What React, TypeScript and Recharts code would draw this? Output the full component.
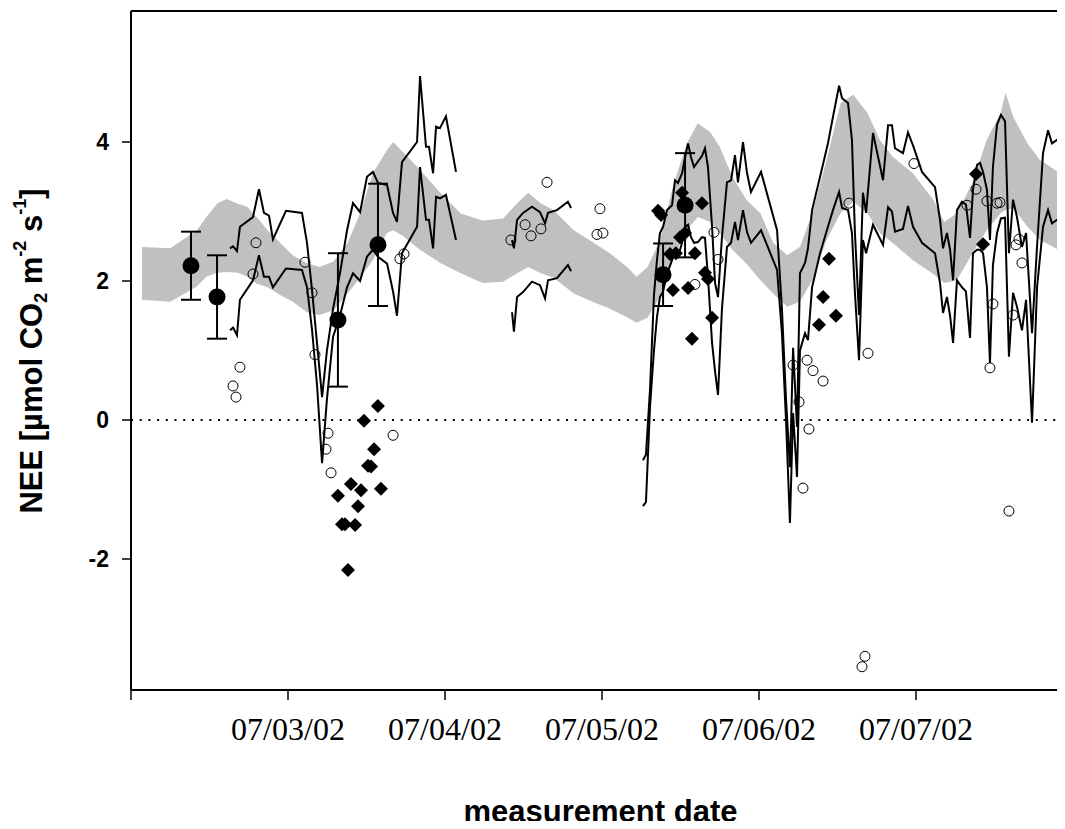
import React from 'react';
import { ComposedChart, Area, Line, Scatter, ErrorBar, XAxis, YAxis, ReferenceLine } from 'recharts';

// x values are days since 07/02/02
const dateTicks = [0, 1, 2, 3, 4, 5];
const dateLabels = ['', '07/03/02', '07/04/02', '07/05/02', '07/06/02', '07/07/02'];
const neeTicks = [-2, 0, 2, 4];

// modelled range (grey band)
const bandT = [0.07, 0.25, 0.42, 0.48, 0.55, 0.61, 0.68, 0.74, 0.8, 0.87, 0.95, 1.03, 1.12, 1.2, 1.29, 1.38, 1.46, 1.54, 1.63, 1.67, 1.73, 1.84, 1.97, 2.1, 2.24, 2.37, 2.46, 2.53, 2.61, 2.69, 2.82, 2.92, 3.05, 3.16, 3.22, 3.29, 3.37, 3.45, 3.54, 3.61, 3.69, 3.75, 3.83, 3.92, 4.01, 4.09, 4.18, 4.26, 4.34, 4.43, 4.52, 4.6, 4.69, 4.77, 4.85, 4.98, 5.11, 5.18, 5.26, 5.36, 5.45, 5.54, 5.57, 5.62, 5.71, 5.79, 5.95];
const bandHi = [2.49, 2.47, 2.73, 2.92, 3.12, 3.18, 3.11, 3.07, 2.92, 2.73, 2.55, 2.37, 2.26, 2.2, 2.28, 2.55, 2.98, 3.55, 3.88, 4.0, 3.86, 3.6, 3.27, 2.97, 2.87, 2.9, 3.12, 3.27, 3.12, 3.02, 2.73, 2.59, 2.4, 2.2, 2.06, 2.2, 2.59, 3.35, 3.98, 4.27, 4.14, 3.93, 3.5, 3.17, 2.97, 2.55, 2.37, 2.49, 2.98, 3.74, 4.56, 4.68, 4.42, 4.03, 3.79, 3.55, 3.17, 2.85, 2.98, 3.41, 4.03, 4.42, 4.71, 4.36, 3.98, 3.74, 3.5];
const bandLo = [1.73, 1.7, 1.92, 2.06, 2.12, 2.13, 2.12, 2.06, 1.96, 1.91, 1.8, 1.7, 1.55, 1.51, 1.58, 1.82, 2.05, 2.3, 2.69, 2.73, 2.65, 2.45, 2.26, 2.11, 1.97, 1.99, 2.11, 2.2, 2.11, 2.05, 1.82, 1.72, 1.6, 1.48, 1.4, 1.47, 1.77, 2.3, 2.73, 2.92, 2.85, 2.69, 2.45, 2.25, 2.01, 1.82, 1.63, 1.7, 2.01, 2.59, 2.98, 3.14, 2.98, 2.69, 2.55, 2.3, 2.1, 1.97, 2.01, 2.4, 2.73, 2.98, 3.02, 3.05, 2.78, 2.59, 2.4];

// eddy covariance NEE, upper and lower estimate (null = data gap)
const lineT = [
  0.631, 0.65, 0.675, 0.694, 0.777, 0.815, 0.847, 0.879, 0.904, 0.987, 1.089, 1.121, 1.153, 1.185, 1.217, 1.248, 1.287, 1.331, 1.376, 1.414, 1.459, 1.503, 1.541, 1.573, 1.631, 1.669, 1.694, 1.726, 1.822, 1.841, 1.879, 1.898, 1.924, 1.943, 1.968, 2.006, 2.07,
  2.25,
  2.427, 2.439, 2.459, 2.497, 2.554, 2.605, 2.637, 2.656, 2.713, 2.783, 2.803,
  3.0,
  3.261, 3.28, 3.306, 3.331, 3.35, 3.369, 3.389, 3.414, 3.446, 3.465, 3.484, 3.51, 3.529, 3.548, 3.567, 3.586, 3.611, 3.637, 3.656, 3.675, 3.701, 3.72, 3.739, 3.764, 3.796, 3.822, 3.847, 3.866, 3.898, 3.924, 3.949, 4.013, 4.115, 4.146, 4.172, 4.197, 4.217, 4.242, 4.261, 4.293, 4.312, 4.338, 4.389, 4.439, 4.471, 4.51, 4.529, 4.567, 4.592, 4.611, 4.637, 4.662, 4.682, 4.726, 4.79, 4.822, 4.847, 4.866, 4.917, 4.949, 4.981, 5.013, 5.038, 5.121, 5.153, 5.172, 5.197, 5.217, 5.236, 5.261, 5.293, 5.318, 5.344, 5.363, 5.389, 5.408, 5.427, 5.452, 5.471, 5.49, 5.516, 5.541, 5.567, 5.592, 5.618, 5.643, 5.675, 5.701, 5.739, 5.771, 5.809, 5.841, 5.866, 5.898, 5.93, 5.955,
];
const lineUp = [
  2.47, 2.5, 2.43, 2.78, 2.92, 3.32, 2.98, 2.94, 2.6, 3.01, 2.98, 2.55, 1.87, 1.1, 0.33, 1.0, 1.6, 2.11, 2.73, 3.12, 2.99, 3.5, 3.57, 3.41, 3.38, 2.98, 2.85, 3.71, 4.0, 4.95, 3.93, 3.93, 3.55, 4.22, 4.2, 4.37, 3.57,
  null,
  2.59, 2.47, 2.88, 2.98, 3.07, 2.99, 2.83, 2.98, 3.02, 3.14, 3.05,
  null,
  -0.58, -0.5, 0.45, 1.8, 2.3, 2.69, 2.78, 3.02, 3.09, 3.45, 3.41, 3.55, 3.78, 3.98, 3.78, 3.64, 3.72, 3.8, 3.91, 3.64, 2.78, 1.97, 1.77, 2.63, 3.42, 3.45, 3.81, 3.42, 4.0, 3.55, 3.28, 3.57, 2.73, 1.6, 0.3, -0.68, 1.04, -0.1, 2.11, 2.26, 2.47, 3.02, 3.5, 3.98, 4.36, 4.81, 4.63, 4.56, 4.03, 2.69, 1.51, 3.27, 2.98, 4.13, 3.45, 4.24, 4.24, 3.91, 3.84, 4.14, 3.95, 3.74, 3.57, 3.35, 2.88, 2.47, 2.69, 2.45, 2.01, 3.02, 3.14, 3.1, 2.62, 3.31, 3.67, 3.7, 3.57, 3.31, 2.59, 3.64, 4.25, 4.39, 4.3, 2.4, 3.17, 2.92, 2.49, 2.69, 1.25, 2.5, 3.84, 4.17, 3.98, 4.03, 4.07, 3.45,
];
const lineLo = [
  1.29, 1.33, 1.22, 1.73, 2.01, 2.37, 2.06, 2.06, 1.91, 2.18, 2.16, 1.91, 1.3, 0.5, -0.62, 0.3, 1.2, 1.5, 1.91, 2.11, 2.0, 2.35, 2.45, 2.35, 2.25, 1.85, 1.5, 2.4, 2.78, 3.64, 2.88, 2.88, 2.47, 3.21, 3.19, 3.24, 2.59,
  null,
  1.55, 1.27, 1.77, 1.84, 1.99, 1.94, 1.75, 2.01, 2.04, 2.23, 2.14,
  null,
  -1.24, -1.18, 0.2, 1.0, 1.48, 1.77, 1.85, 2.1, 2.3, 2.4, 2.35, 2.55, 2.78, 2.81, 2.63, 2.55, 2.56, 2.63, 2.62, 2.06, 1.11, 0.7, 0.36, 1.6, 2.49, 2.55, 2.85, 2.59, 3.02, 2.7, 2.55, 2.73, 2.16, 1.25, 0.0, -1.48, 0.1, -0.82, 1.0, 1.25, 1.15, 1.91, 2.4, 2.78, 3.02, 3.28, 3.05, 3.02, 2.69, 1.83, 0.86, 2.59, 2.4, 2.81, 2.52, 3.06, 3.0, 2.71, 2.75, 3.08, 2.78, 2.65, 2.55, 2.4, 1.97, 1.54, 1.77, 1.5, 1.11, 2.01, 1.91, 1.85, 1.18, 2.4, 2.45, 2.45, 2.4, 1.91, 0.82, 2.23, 2.69, 2.9, 2.91, 0.91, 1.83, 1.63, 1.29, 1.73, -0.04, 1.91, 2.78, 3.02, 2.83, 2.88, 2.92, 2.55,
];

// open circles
const circT = [0.796, 0.777, 1.108, 1.153, 1.713, 1.739, 0.694, 0.65, 0.669, 1.172, 1.255, 1.242, 1.274, 1.669, 2.65, 2.987, 2.42, 2.51, 2.548, 2.611, 2.968, 3.006, 3.713, 3.739, 3.592, 4.987, 4.573, 5.325, 5.382, 5.452, 5.516, 5.535, 5.637, 5.656, 5.675, 5.49, 5.618, 4.694, 5.471, 4.217, 4.306, 4.344, 4.408, 4.255, 4.318, 4.28, 5.592, 4.675, 4.656];
const circV = [2.55, 2.1, 2.27, 1.83, 2.32, 2.39, 0.76, 0.49, 0.33, 0.94, -0.19, -0.42, -0.76, -0.22, 3.42, 3.04, 2.59, 2.81, 2.65, 2.75, 2.67, 2.69, 2.7, 2.31, 1.95, 3.69, 3.12, 3.09, 3.32, 3.15, 3.12, 3.13, 2.52, 2.6, 2.26, 1.67, 1.51, 0.96, 0.75, 0.79, 0.86, 0.71, 0.56, 0.26, -0.13, -0.98, -1.31, -3.4, -3.55];

// filled diamonds
const diaT = [1.573, 1.484, 1.548, 1.51, 1.529, 1.401, 1.465, 1.592, 1.318, 1.446, 1.344, 1.363, 1.427, 1.382, 3.357, 3.376, 3.51, 3.637, 3.497, 3.529, 3.433, 3.471, 3.592, 3.656, 3.675, 3.452, 3.548, 3.701, 3.573, 4.446, 4.408, 4.382, 4.49, 5.382, 5.427];
const diaV = [0.2, -0.01, -0.42, -0.66, -0.67, -0.92, -1.01, -0.99, -1.09, -1.24, -1.5, -1.5, -1.51, -2.16, 3.01, 2.95, 3.27, 3.12, 2.63, 2.69, 2.39, 2.4, 2.4, 2.12, 2.03, 1.87, 1.9, 1.47, 1.17, 2.32, 1.77, 1.37, 1.5, 3.54, 2.53];

// chamber means with error bars
const meanT = [0.382, 0.548, 1.318, 1.573, 3.389, 3.529];
const meanV = [2.22, 1.77, 1.44, 2.52, 2.09, 3.09];
const meanErr = [0.49, 0.6, 0.96, 0.88, 0.45, 0.75];

const bandData = bandT.map((x, i) => ({ x, range: [bandLo[i], bandHi[i]] }));
const lineData = lineT.map((x, i) => ({ x, up: lineUp[i], lo: lineLo[i] }));
const circleData = circT.map((x, i) => ({ x, y: circV[i] }));
const diamondData = diaT.map((x, i) => ({ x, y: diaV[i] }));
const meanData = meanT.map((x, i) => ({ x, y: meanV[i], err: meanErr[i] }));

const SANS = '"Liberation Sans", Arial, Helvetica, sans-serif';
const SERIF = '"Liberation Serif", "Times New Roman", serif';

const OpenCircle = (props: any) => (
  <circle cx={props.cx} cy={props.cy} r={5} fill="none" stroke="#000" strokeWidth={1} />
);

const Diamond = (props: any) => {
  const { cx, cy } = props;
  const s = 7;
  return <polygon points={`${cx},${cy - s} ${cx + s},${cy} ${cx},${cy + s} ${cx - s},${cy}`} fill="#000" />;
};

const MeanDot = (props: any) => <circle cx={props.cx} cy={props.cy} r={8.5} fill="#000" />;

export default function App() {
  return (
    <div style={{ margin: -8, width: 1065, height: 829, overflow: 'hidden', position: 'relative', background: '#fff' }}>
      <ComposedChart width={1065} height={829} margin={{ top: 11, right: 0, bottom: 0, left: 0 }}>
        <XAxis
          dataKey="x"
          type="number"
          domain={[0, 5.949]}
          allowDataOverflow
          ticks={dateTicks}
          tickFormatter={(v: number) => dateLabels[v] ?? ''}
          height={139}
          tickSize={10}
          tickMargin={17}
          axisLine={{ stroke: '#000', strokeWidth: 2 }}
          tickLine={{ stroke: '#000', strokeWidth: 1.5 }}
          tick={{ fontFamily: SERIF, fontSize: 32, fill: '#000' }}
        />
        <YAxis
          type="number"
          domain={[-3.885, 5.885]}
          allowDataOverflow
          ticks={neeTicks}
          width={131}
          tickSize={9}
          tickMargin={13}
          axisLine={{ stroke: '#000', strokeWidth: 2 }}
          tickLine={{ stroke: '#000', strokeWidth: 1.5 }}
          tick={{ fontFamily: SANS, fontSize: 23, fontWeight: 'bold', fill: '#000' }}
        />
        <Area data={bandData} dataKey="range" type="linear" stroke="none" fill="#c0c0c0" fillOpacity={1} isAnimationActive={false} />
        <ReferenceLine y={0} stroke="#000" strokeWidth={2} strokeDasharray="2 6.7" />
        <ReferenceLine y={5.885} stroke="#000" strokeWidth={2} />
        <Line data={lineData} dataKey="up" type="linear" stroke="#000" strokeWidth={2} dot={false} isAnimationActive={false} />
        <Line data={lineData} dataKey="lo" type="linear" stroke="#000" strokeWidth={2} dot={false} isAnimationActive={false} />
        <Scatter data={circleData} dataKey="y" shape={OpenCircle} isAnimationActive={false} />
        <Scatter data={diamondData} dataKey="y" shape={Diamond} isAnimationActive={false} />
        <Scatter data={meanData} dataKey="y" shape={MeanDot} isAnimationActive={false}>
          <ErrorBar dataKey="err" direction="y" width={10} stroke="#000" strokeWidth={2} isAnimationActive={false} />
        </Scatter>
      </ComposedChart>
      <svg width={1065} height={829} style={{ position: 'absolute', left: 0, top: 0, pointerEvents: 'none' }}>
        <text
          transform="rotate(-90 42 351)"
          x={42}
          y={351}
          textAnchor="middle"
          fontFamily={SANS}
          fontWeight="bold"
          fontSize={31}
          fill="#000"
        >
          {'NEE [µmol CO'}
          <tspan fontSize={18} dy={5}>2</tspan>
          <tspan dy={-5}>{' m'}</tspan>
          <tspan fontSize={18} dy={-16}>-2</tspan>
          <tspan dy={16}>{' s'}</tspan>
          <tspan fontSize={18} dy={-16}>-1</tspan>
          <tspan dy={16}>]</tspan>
        </text>
        <text x={600.5} y={822} textAnchor="middle" fontFamily={SANS} fontWeight="bold" fontSize={31} fill="#000">
          measurement date
        </text>
      </svg>
    </div>
  );
}
